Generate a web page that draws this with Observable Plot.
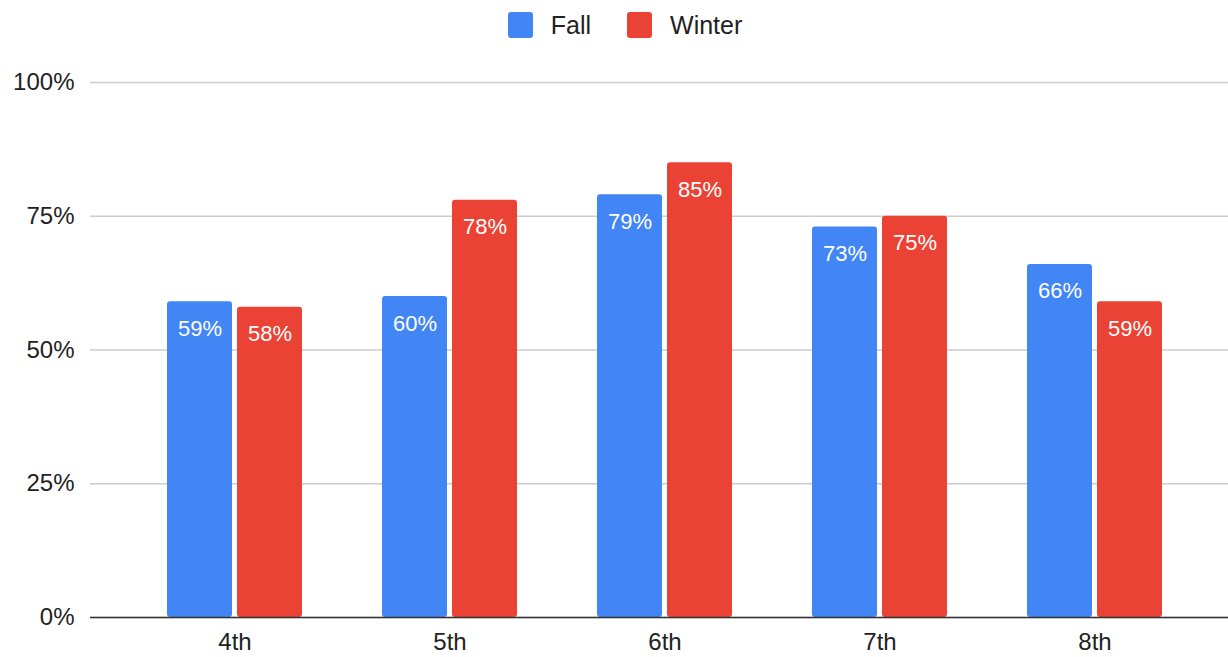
<!DOCTYPE html>
<html>
<head>
<meta charset="utf-8">
<script src="https://cdn.jsdelivr.net/npm/d3@7"></script>
<script src="https://cdn.jsdelivr.net/npm/@observablehq/plot@0.6"></script>
<style>
  html, body { margin: 0; padding: 0; background: #fff; font-family: "Liberation Sans", Arial, sans-serif; }
  #legend { height: 50px; display: flex; justify-content: center; align-items: center; padding-left: 22px; box-sizing: border-box; font-size: 25px; color: #222; }
  .item { display: flex; align-items: center; margin: 0 18px; }
  .sw { width: 25px; height: 26px; border-radius: 3px; margin-right: 18px; }
</style>
</head>
<body>
<div id="legend"></div>
<div id="chart"></div>
<script>
const grades = ["4th", "5th", "6th", "7th", "8th"];
const fall = [0.59, 0.60, 0.79, 0.73, 0.66];
const winter = [0.58, 0.78, 0.85, 0.75, 0.59];
const seriesNames = ["Fall", "Winter"];
const seriesColors = ["#4285F4", "#EA4335"];
const yTicks = [0, 0.25, 0.5, 0.75, 1];

const legend = document.getElementById("legend");
seriesNames.forEach((n, i) => {
  const it = document.createElement("div");
  it.className = "item";
  it.innerHTML = `<span class="sw" style="background:${seriesColors[i]}"></span><span>${n}</span>`;
  legend.appendChild(it);
});

const fallData = grades.map((g, i) => ({grade: g, value: fall[i]}));
const winterData = grades.map((g, i) => ({grade: g, value: winter[i]}));
const fmt = d3.format(".0%");

const chart = Plot.plot({
  width: 1228,
  height: 607,
  marginLeft: 90,
  marginRight: 0,
  marginTop: 32,
  marginBottom: 40,
  style: {fontFamily: "'Liberation Sans', Arial, sans-serif", fontSize: "24px", color: "#222", background: "#fff"},
  x: {domain: grades, insetLeft: 35, insetRight: 25, paddingInner: 0.373, paddingOuter: 0.1865, label: null, tickSize: 0, tickPadding: 15},
  y: {domain: [0, 1], ticks: yTicks, tickFormat: fmt, label: null, tickSize: 0, tickPadding: 16},
  marks: [
    Plot.gridY(yTicks, {stroke: "#ccc", strokeOpacity: 1, strokeWidth: 1.5}),
    Plot.barY(fallData, {x: "grade", y: "value", fill: seriesColors[0], insetRight: 70, rx: 3}),
    Plot.barY(winterData, {x: "grade", y: "value", fill: seriesColors[1], insetLeft: 70, rx: 3}),
    Plot.ruleY([0], {stroke: "#333", strokeWidth: 1.5}),
    Plot.text(fallData, {x: "grade", y: "value", text: d => fmt(d.value), dx: -35, dy: 27, fill: "white", fontSize: 22}),
    Plot.text(winterData, {x: "grade", y: "value", text: d => fmt(d.value), dx: 35, dy: 27, fill: "white", fontSize: 22})
  ]
});
document.getElementById("chart").appendChild(chart);
</script>
</body>
</html>
